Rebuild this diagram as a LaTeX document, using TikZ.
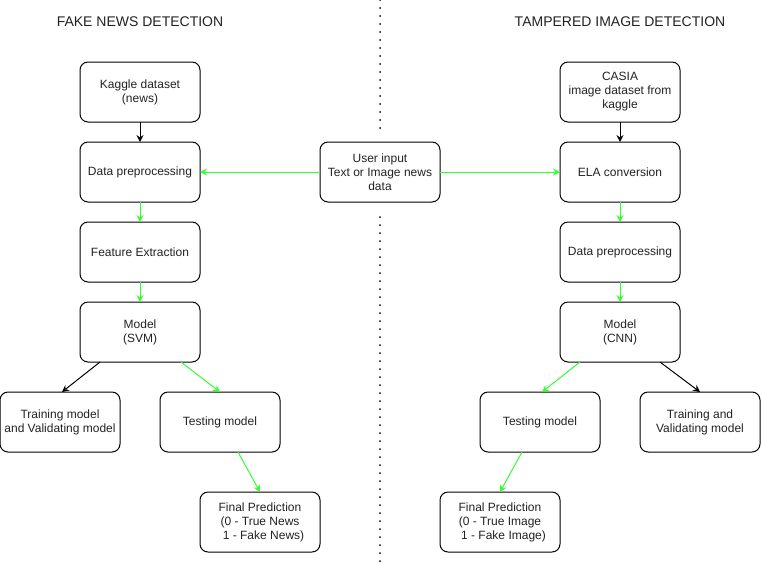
\documentclass[tikz,border=0pt]{standalone}
\usepackage{fontspec}
\setmainfont{Liberation Sans}
\usetikzlibrary{arrows.meta,positioning}
\definecolor{flowgreen}{HTML}{33FF33}
\definecolor{inkgray}{HTML}{222222}

\begin{document}
\begin{tikzpicture}[x=1pt,y=-1pt,>={Stealth[length=7pt,width=7pt,inset=2.5pt]},node distance=20pt,
        box/.style={draw,line width=1pt,rounded corners=8pt,minimum width=120pt,minimum height=60pt,
          inner sep=0pt,outer sep=0pt,align=center,text=inkgray,font=\fontsize{12}{14}\selectfont},
        title/.style={text=inkgray,font=\fontsize{14}{16}\selectfont},
        plain/.style={->,line width=1pt},
        flow/.style={->,line width=1pt,draw=flowgreen},
        divider/.style={line width=2pt,line cap=round,dash pattern=on 0pt off 8pt}]
        \useasboundingbox (0,0) rectangle (762,563);
        % headings
        \node[title] (fakehead) at (140,22) {FAKE NEWS DETECTION};
        \node[title] (tamphead) at (620,22) {TAMPERED IMAGE DETECTION};
        % shared input
        \node[box] (user) at (380,172) {User input\\Text or Image news\\data};
        \coordinate (divtop) at (380,0);
        \coordinate (divbot) at (380,563);
        % fake news side
        \node[box] (kaggle) at (140,92) {Kaggle dataset\\(news)};
        \node[box] (prep) [below=of kaggle] {Data preprocessing};
        \node[box] (feat) [below=of prep] {Feature Extraction};
        \node[box] (svm) [below=of feat] {Model\\(SVM)};
        \node[box] (train) at (60,422) {Training model\\and Validating model};
        \node[box] (test) at (220,422) {Testing model};
        \node[box] (final) at (260,522) {Final Prediction\\(0 - True News\\\hspace*{7pt}1 - Fake News)};
        % tampered image side
        \node[box] (casia) at (620,92) {CASIA\\image dataset from\\kaggle};
        \node[box] (ela) [below=of casia] {ELA conversion};
        \node[box] (iprep) [below=of ela] {Data preprocessing};
        \node[box] (cnn) [below=of iprep] {Model\\(CNN)};
        \node[box] (itest) at (540,422) {Testing model};
        \node[box] (itrain) at (700,422) {Training and\\Validating model};
        \node[box] (ifinal) at (500,522) {Final Prediction\\(0 - True Image\\\hspace*{7pt}1 - Fake Image)};
        % divider
        \draw[divider,shorten >=9pt] (divtop) -- (user.north);
        \draw[divider,shorten <=15pt] (user.south) -- (divbot);
        % connectors
        \draw[plain] (kaggle) -- (prep);
        \draw[flow] (user) -- (prep);
        \draw[flow] (prep) -- (feat);
        \draw[flow] (feat) -- (svm);
        \draw[plain] ([xshift=-40pt]svm.south) -- ([xshift=2pt]train.north);
        \draw[flow] ([xshift=41pt]svm.south) -- (test.north);
        \draw[flow] ([xshift=18pt]test.south) -- (final.north);
        \draw[plain] (casia) -- (ela);
        \draw[flow] (user) -- (ela);
        \draw[flow] (ela) -- (iprep);
        \draw[flow] (iprep) -- (cnn);
        \draw[flow] ([xshift=-40pt]cnn.south) -- ([xshift=2pt]itest.north);
        \draw[plain] ([xshift=40pt]cnn.south) -- (itrain.north);
        \draw[flow] ([xshift=-18pt]itest.south) -- (ifinal.north);
\end{tikzpicture}
\end{document}
